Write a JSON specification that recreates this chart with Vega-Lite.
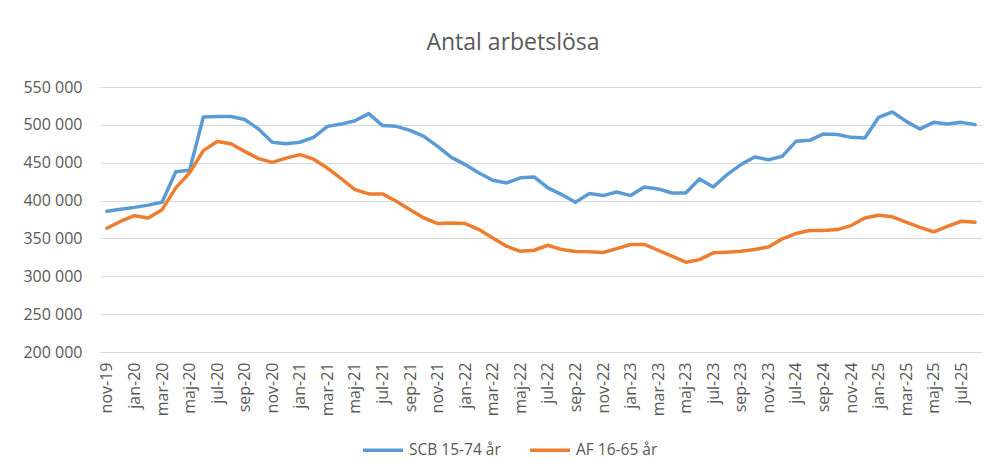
{
  "$schema": "https://vega.github.io/schema/vega-lite/v6.json",
  "autosize": {"type": "none"},
  "width": 882,
  "height": 265,
  "padding": {"left": 100, "top": 87, "right": 7, "bottom": 120},
  "background": "white",
  "config": {
    "view": {"stroke": null},
    "font": "Open Sans"
  },
  "title": {
    "text": "Antal arbetslösa",
    "fontSize": 23,
    "fontWeight": "normal",
    "color": "#595959",
    "anchor": "middle",
    "dx": -28,
    "offset": 24
  },
  "data": {
    "values": [
      {"m": "nov-19", "SCB 15-74 år": 386000, "AF 16-65 år": 363400},
      {"m": "dec-19", "SCB 15-74 år": 388500, "AF 16-65 år": 372700},
      {"m": "jan-20", "SCB 15-74 år": 391000, "AF 16-65 år": 380000},
      {"m": "feb-20", "SCB 15-74 år": 394000, "AF 16-65 år": 377000},
      {"m": "mar-20", "SCB 15-74 år": 397700, "AF 16-65 år": 388000},
      {"m": "apr-20", "SCB 15-74 år": 438000, "AF 16-65 år": 416700},
      {"m": "maj-20", "SCB 15-74 år": 440000, "AF 16-65 år": 436500},
      {"m": "jun-20", "SCB 15-74 år": 510400, "AF 16-65 år": 466000},
      {"m": "jul-20", "SCB 15-74 år": 511000, "AF 16-65 år": 478000},
      {"m": "aug-20", "SCB 15-74 år": 511000, "AF 16-65 år": 475000},
      {"m": "sep-20", "SCB 15-74 år": 507000, "AF 16-65 år": 465000},
      {"m": "okt-20", "SCB 15-74 år": 494600, "AF 16-65 år": 455400},
      {"m": "nov-20", "SCB 15-74 år": 477000, "AF 16-65 år": 450500},
      {"m": "dec-20", "SCB 15-74 år": 475200, "AF 16-65 år": 456000},
      {"m": "jan-21", "SCB 15-74 år": 477000, "AF 16-65 år": 460700},
      {"m": "feb-21", "SCB 15-74 år": 483500, "AF 16-65 år": 454700},
      {"m": "mar-21", "SCB 15-74 år": 498000, "AF 16-65 år": 443000},
      {"m": "apr-21", "SCB 15-74 år": 501000, "AF 16-65 år": 429000},
      {"m": "maj-21", "SCB 15-74 år": 505500, "AF 16-65 år": 414500},
      {"m": "jun-21", "SCB 15-74 år": 514800, "AF 16-65 år": 408800},
      {"m": "jul-21", "SCB 15-74 år": 499000, "AF 16-65 år": 408800},
      {"m": "aug-21", "SCB 15-74 år": 498000, "AF 16-65 år": 399000},
      {"m": "sep-21", "SCB 15-74 år": 492700, "AF 16-65 år": 388000},
      {"m": "okt-21", "SCB 15-74 år": 484800, "AF 16-65 år": 377000},
      {"m": "nov-21", "SCB 15-74 år": 471600, "AF 16-65 år": 369600},
      {"m": "dec-21", "SCB 15-74 år": 457000, "AF 16-65 år": 370500},
      {"m": "jan-22", "SCB 15-74 år": 447500, "AF 16-65 år": 369600},
      {"m": "feb-22", "SCB 15-74 år": 436500, "AF 16-65 år": 361700},
      {"m": "mar-22", "SCB 15-74 år": 426800, "AF 16-65 år": 350700},
      {"m": "apr-22", "SCB 15-74 år": 423300, "AF 16-65 år": 339700},
      {"m": "maj-22", "SCB 15-74 år": 430000, "AF 16-65 år": 333000},
      {"m": "jun-22", "SCB 15-74 år": 431200, "AF 16-65 år": 334400},
      {"m": "jul-22", "SCB 15-74 år": 416700, "AF 16-65 år": 341000},
      {"m": "aug-22", "SCB 15-74 år": 407900, "AF 16-65 år": 335300},
      {"m": "sep-22", "SCB 15-74 år": 397700, "AF 16-65 år": 332700},
      {"m": "okt-22", "SCB 15-74 år": 409200, "AF 16-65 år": 332300},
      {"m": "nov-22", "SCB 15-74 år": 406600, "AF 16-65 år": 331400},
      {"m": "dec-22", "SCB 15-74 år": 411400, "AF 16-65 år": 336600},
      {"m": "jan-23", "SCB 15-74 år": 406600, "AF 16-65 år": 342000},
      {"m": "feb-23", "SCB 15-74 år": 418000, "AF 16-65 år": 342000},
      {"m": "mar-23", "SCB 15-74 år": 415400, "AF 16-65 år": 334400},
      {"m": "apr-23", "SCB 15-74 år": 410000, "AF 16-65 år": 326500},
      {"m": "maj-23", "SCB 15-74 år": 410000, "AF 16-65 år": 318600},
      {"m": "jun-23", "SCB 15-74 år": 428600, "AF 16-65 år": 322000},
      {"m": "jul-23", "SCB 15-74 år": 418000, "AF 16-65 år": 331000},
      {"m": "aug-23", "SCB 15-74 år": 434300, "AF 16-65 år": 331800},
      {"m": "sep-23", "SCB 15-74 år": 447500, "AF 16-65 år": 333000},
      {"m": "okt-23", "SCB 15-74 år": 457600, "AF 16-65 år": 335300},
      {"m": "nov-23", "SCB 15-74 år": 454000, "AF 16-65 år": 338800},
      {"m": "jun-24", "SCB 15-74 år": 458400, "AF 16-65 år": 349400},
      {"m": "jul-24", "SCB 15-74 år": 478200, "AF 16-65 år": 356400},
      {"m": "aug-24", "SCB 15-74 år": 479600, "AF 16-65 år": 360400},
      {"m": "sep-24", "SCB 15-74 år": 488000, "AF 16-65 år": 360400},
      {"m": "okt-24", "SCB 15-74 år": 487300, "AF 16-65 år": 361700},
      {"m": "nov-24", "SCB 15-74 år": 483500, "AF 16-65 år": 367000},
      {"m": "dec-24", "SCB 15-74 år": 482700, "AF 16-65 år": 377000},
      {"m": "jan-25", "SCB 15-74 år": 510000, "AF 16-65 år": 380600},
      {"m": "feb-25", "SCB 15-74 år": 517000, "AF 16-65 år": 378500},
      {"m": "mar-25", "SCB 15-74 år": 504600, "AF 16-65 år": 371400},
      {"m": "apr-25", "SCB 15-74 år": 494600, "AF 16-65 år": 364700},
      {"m": "maj-25", "SCB 15-74 år": 503300, "AF 16-65 år": 358700},
      {"m": "jun-25", "SCB 15-74 år": 501200, "AF 16-65 år": 366000},
      {"m": "jul-25", "SCB 15-74 år": 503300, "AF 16-65 år": 372700},
      {"m": "aug-25", "SCB 15-74 år": 500300, "AF 16-65 år": 371400}
    ]
  },
  "transform": [
    {"fold": ["SCB 15-74 år", "AF 16-65 år"], "as": ["serie", "v"]}
  ],
  "mark": {"type": "line", "strokeWidth": 3.5, "strokeJoin": "round", "strokeCap": "round"},
  "encoding": {
    "x": {
      "field": "m",
      "type": "ordinal",
      "sort": null,
      "scale": {"type": "point", "padding": 0.5},
      "axis": {
        "title": null,
        "values": ["nov-19","jan-20","mar-20","maj-20","jul-20","sep-20","nov-20","jan-21","mar-21","maj-21","jul-21","sep-21","nov-21","jan-22","mar-22","maj-22","jul-22","sep-22","nov-22","jan-23","mar-23","maj-23","jul-23","sep-23","nov-23","jul-24","sep-24","nov-24","jan-25","mar-25","maj-25","jul-25"],
        "labelAngle": -90,
        "labelFontSize": 16,
        "labelColor": "#595959",
        "labelPadding": 10,
        "labelOverlap": false,
        "ticks": false,
        "grid": false,
        "domainColor": "#D9D9D9",
        "domainWidth": 1
      }
    },
    "y": {
      "field": "v",
      "type": "quantitative",
      "scale": {"domain": [200000, 550000], "nice": false, "zero": false},
      "axis": {
        "title": null,
        "values": [200000, 250000, 300000, 350000, 400000, 450000, 500000, 550000],
        "labelExpr": "replace(format(datum.value, ','), ',', ' ')",
        "labelFontSize": 16,
        "labelColor": "#595959",
        "labelPadding": 18,
        "ticks": false,
        "domain": false,
        "gridColor": "#D9D9D9",
        "gridWidth": 1
      }
    },
    "color": {
      "field": "serie",
      "type": "nominal",
      "scale": {"domain": ["SCB 15-74 år", "AF 16-65 år"], "range": ["#5B9BD5", "#ED7D31"]},
      "legend": {
        "title": null,
        "orient": "none",
        "legendX": 261,
        "legendY": 341,
        "direction": "horizontal",
        "symbolType": "stroke",
        "symbolSize": 1600,
        "symbolStrokeWidth": 3.5,
        "labelFontSize": 15.5,
        "labelColor": "#595959",
        "labelOffset": 4,
        "columnPadding": 22
      }
    }
  }
}
